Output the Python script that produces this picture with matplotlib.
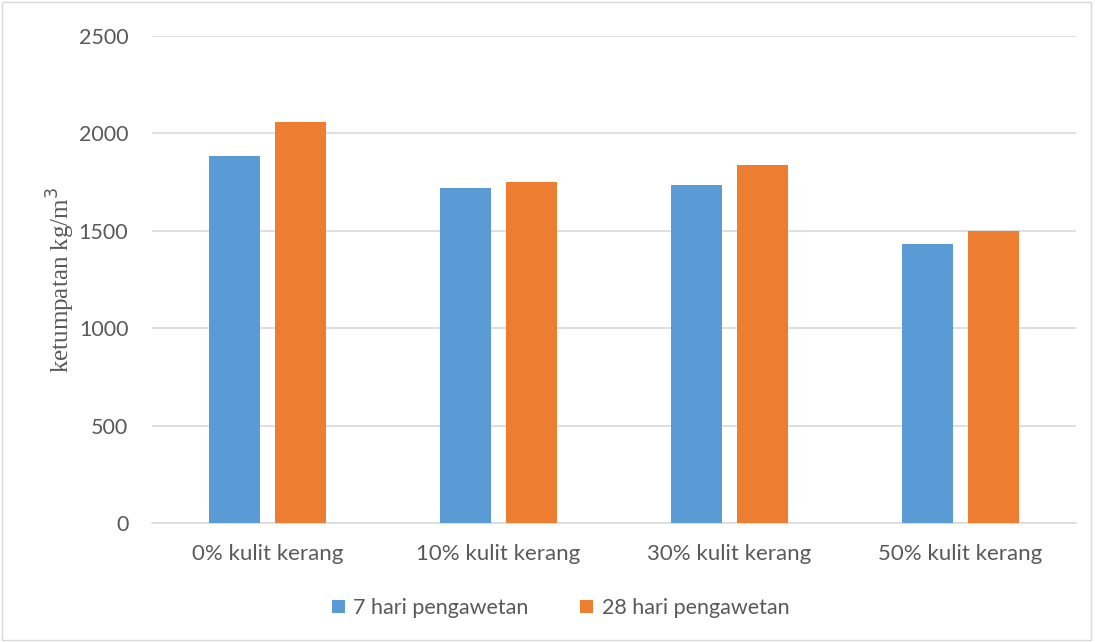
import numpy as np
import matplotlib.pyplot as plt
from matplotlib.patches import Rectangle

categories = ['0% kulit kerang', '10% kulit kerang', '30% kulit kerang', '50% kulit kerang']
hari_7 = [1883, 1720, 1735, 1430]
hari_28 = [2056, 1748, 1837, 1500]
series_names = ['7 hari pengawetan', '28 hari pengawetan']

blue = '#5B9BD5'
orange = '#ED7D31'
txt = '#595959'

plt.rcParams['font.family'] = ['Lato', 'DejaVu Sans']

fig = plt.figure(figsize=(10.95, 6.42), dpi=100)
ax = fig.add_axes([0.1388, 0.1849, 0.8438, 0.7595])

x = np.arange(len(categories))
w = 0.22
ax.bar(x - 0.1425, hari_7, w, color=blue, label=series_names[0], zorder=3)
ax.bar(x + 0.1425, hari_28, w, color=orange, label=series_names[1], zorder=3)

ax.set_xlim(-0.5, len(categories) - 0.5)
ax.set_ylim(0, 2500)
ax.set_yticks(range(0, 2501, 500))
ax.yaxis.grid(True, color='#D9D9D9', linewidth=1.2, zorder=0)
for s in ['top', 'right', 'left']:
    ax.spines[s].set_visible(False)
ax.spines['bottom'].set_color('#D9D9D9')
ax.spines['bottom'].set_linewidth(1.2)
ax.tick_params(axis='both', length=0, labelsize=16, colors=txt)
ax.tick_params(axis='x', pad=15)
ax.tick_params(axis='y', pad=17, labelsize=15.5)
ax.set_xticks(x)
ax.set_xticklabels(categories)

ax.set_ylabel('ketumpatan kg/m$^3$', family='Liberation Serif', fontsize=18,
              color=txt, labelpad=1)

fig.legend(*ax.get_legend_handles_labels(), loc='center', bbox_to_anchor=(0.512, 0.053),
           ncol=2, frameon=False, fontsize=15.5, labelcolor=txt, handlelength=0.6,
           handleheight=0.6, columnspacing=2.4, handletextpad=0.4)

fig.patches.append(Rectangle((0.002, 0.003), 0.994, 0.994, transform=fig.transFigure,
                             fill=False, edgecolor='#D9D9D9', linewidth=1))

fig.savefig('out.png', dpi=100)
